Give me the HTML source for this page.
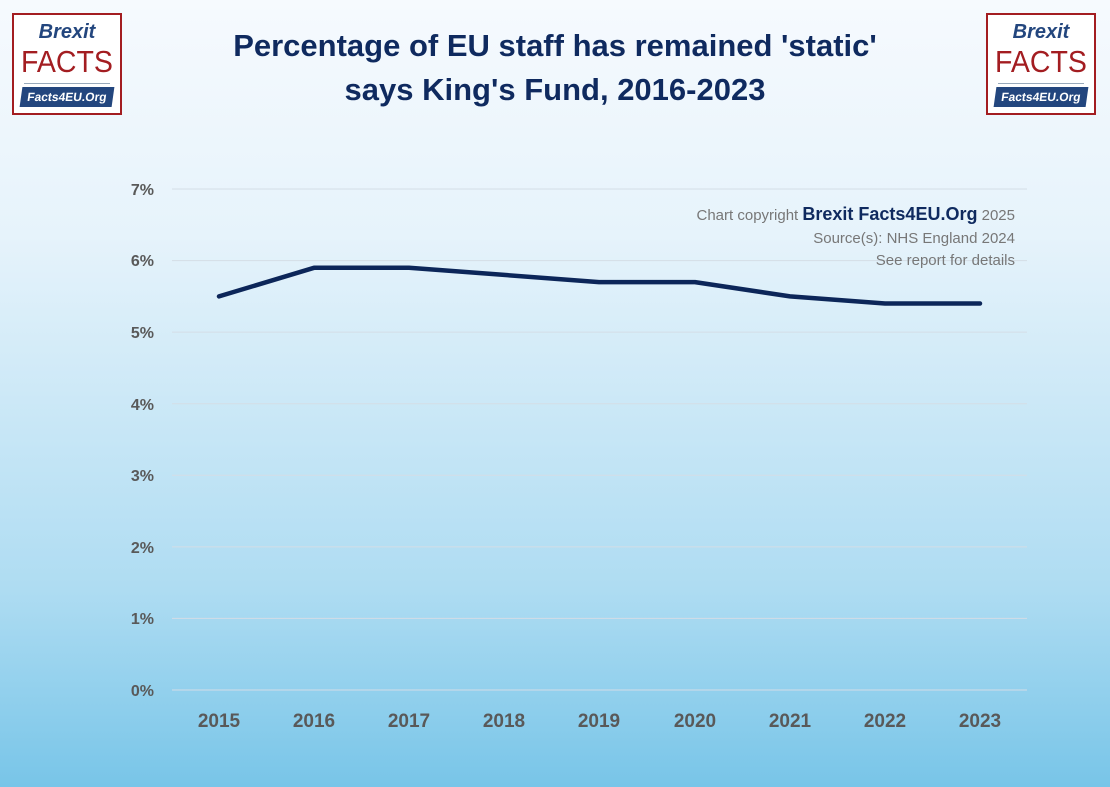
<!DOCTYPE html>
<html><head><meta charset="utf-8"><style>
body{margin:0;width:1110px;height:787px;overflow:hidden;background:linear-gradient(to bottom,#f6fafe 0%,#e6f3fb 30%,#aedcf2 75%,#78c5e8 100%);font-family:"Liberation Sans",sans-serif;position:relative}
.logo{position:absolute;width:110px;height:102px;border:2px solid #a31d21;background:#fff;box-sizing:border-box}
.logo .b{position:absolute;top:6px;width:100%;text-align:center;font:italic bold 20px "Liberation Sans",sans-serif;color:#23467e}
.logo .f{position:absolute;top:29px;width:100%;text-align:center;font:31px "Liberation Sans",sans-serif;color:#a31d21;transform:scaleX(0.92)}
.logo .ln{position:absolute;top:68px;left:10px;right:10px;border-top:1px solid #9ab}
.logo .o{position:absolute;top:72px;left:7px;right:7px;height:20px;background:#23467e;color:#fff;font:bold 12px "Liberation Sans",sans-serif;text-align:center;line-height:20px;transform:skewX(-8deg)}
.title{position:absolute;top:24px;left:0;width:1110px;text-align:center;font:bold 31px/44px "Liberation Sans",sans-serif;color:#0f2a5f}
</style></head><body>
<div class="logo" style="left:12px;top:13px"><div class="b">Brexit</div><div class="f">FACTS</div><div class="ln"></div><div class="o">Facts4EU.Org</div></div>
<div class="logo" style="left:986px;top:13px"><div class="b">Brexit</div><div class="f">FACTS</div><div class="ln"></div><div class="o">Facts4EU.Org</div></div>
<div class="title">Percentage of EU staff has remained 'static'<br>says King's Fund, 2016-2023</div>
<svg width="1110" height="787" style="position:absolute;left:0;top:0">
<g stroke="#d4dde6" stroke-width="1">
<line x1="172" x2="1027" y1="189" y2="189"/><line x1="172" x2="1027" y1="260.6" y2="260.6"/><line x1="172" x2="1027" y1="332.1" y2="332.1"/><line x1="172" x2="1027" y1="403.7" y2="403.7"/><line x1="172" x2="1027" y1="475.3" y2="475.3"/><line x1="172" x2="1027" y1="546.9" y2="546.9"/><line x1="172" x2="1027" y1="618.4" y2="618.4"/><line x1="172" x2="1027" y1="690" y2="690"/>
</g>
<g font-family="Liberation Sans" font-weight="bold" font-size="16" fill="#595959" text-anchor="end">
<text x="154" y="195">7%</text><text x="154" y="266">6%</text><text x="154" y="338">5%</text><text x="154" y="410">4%</text><text x="154" y="481">3%</text><text x="154" y="553">2%</text><text x="154" y="624">1%</text><text x="154" y="696">0%</text>
</g>
<g font-family="Liberation Sans" font-weight="bold" font-size="19" fill="#595959" text-anchor="middle">
<text x="219" y="727">2015</text><text x="314" y="727">2016</text><text x="409" y="727">2017</text><text x="504" y="727">2018</text><text x="599" y="727">2019</text><text x="695" y="727">2020</text><text x="790" y="727">2021</text><text x="885" y="727">2022</text><text x="980" y="727">2023</text>
</g>
<polyline fill="none" stroke="#0c2659" stroke-width="4.5" stroke-linejoin="round" stroke-linecap="round" points="219,296.4 314,267.8 409,267.8 504,274.9 599,282.1 695,282.1 790,296.4 885,303.5 980,303.5"/>
<g font-family="Liberation Sans" font-size="15" fill="#777" text-anchor="end">
<text x="1015" y="220">Chart copyright <tspan font-weight="bold" font-size="18" fill="#0f2a5f">Brexit Facts4EU.Org</tspan> 2025</text>
<text x="1015" y="243">Source(s): NHS England 2024</text>
<text x="1015" y="265">See report for details</text>
</g>
</svg>
</body></html>
